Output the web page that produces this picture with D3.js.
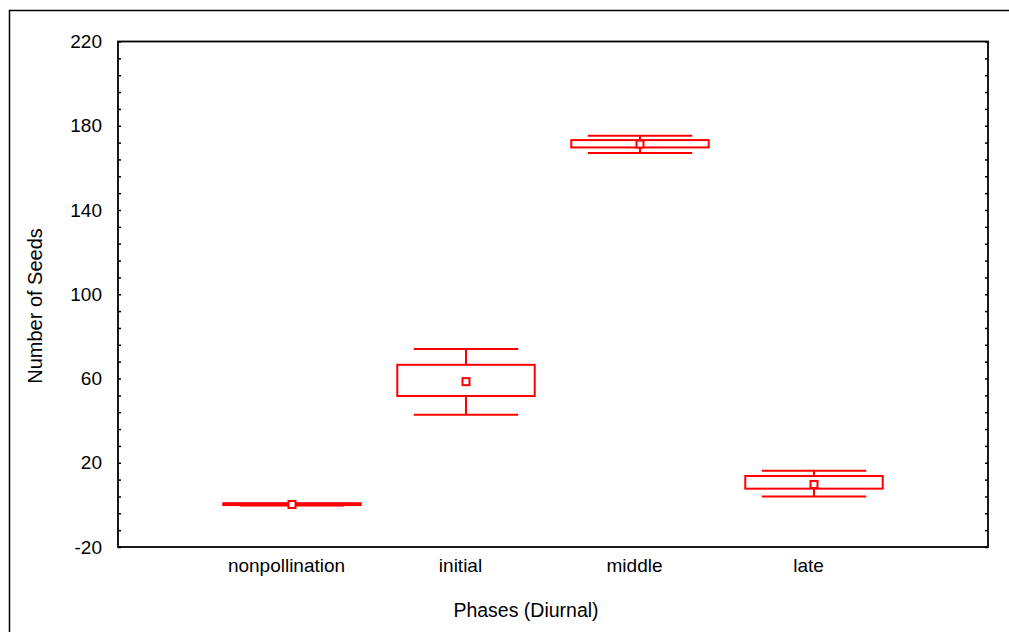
<!DOCTYPE html>
<html>
<head>
<meta charset="utf-8">
<script src="https://cdn.jsdelivr.net/npm/d3@7/dist/d3.min.js"></script>
<style>
  html, body { margin: 0; padding: 0; background: #fff; }
  svg { display: block; }
  text { font-family: "Liberation Sans", Arial, sans-serif; fill: #000; }
</style>
</head>
<body>
<svg id="chart" width="1009" height="632"></svg>
<script>
// Seed counts by diurnal pollination phase: mean, box (±SE) and whiskers (±SD)
const categories = ["nonpollination", "initial", "middle", "late"];
const means      = [0.2, 58.5, 171.3, 9.7];
const boxLow     = [-0.1, 51.7, 169.7, 7.7];
const boxHigh    = [0.8, 66.5, 173.2, 13.7];
const whiskerLow = [-0.3, 42.8, 167.1, 4.0];
const whiskerHigh= [0.3, 74.0, 175.3, 16.2];
const yTickLabels = [-20, 20, 60, 100, 140, 180, 220];

const svg = d3.select("#chart");
const W = 1009, H = 632;
const plot = { left: 118, top: 41.5, right: 988, bottom: 547 };

// Outer window frame (right and bottom edges fall outside the canvas)
svg.append("rect")
  .attr("x", 9.5).attr("y", 10.5)
  .attr("width", W + 10).attr("height", H + 10)
  .attr("fill", "none").attr("stroke", "#000").attr("stroke-width", 1.5);

const x = d3.scalePoint().domain(categories).range([plot.left, plot.right]).padding(1);
const y = d3.scaleLinear().domain([-20, 220]).range([plot.bottom, plot.top]);

const step = x.step();
const boxW = step * 0.79;
const capW = step * 0.6;

// Minor ticks every 8 units, pointing inward, on both vertical axes
const minorVals = d3.range(-20, 221, 8);
svg.append("g")
  .attr("transform", `translate(${plot.left},0)`)
  .call(d3.axisLeft(y).tickValues(minorVals).tickSize(-3).tickFormat(""))
  .call(g => g.select(".domain").remove())
  .call(g => g.selectAll("line").attr("stroke", "#000").attr("stroke-width", 1.5));
svg.append("g")
  .attr("transform", `translate(${plot.right},0)`)
  .call(d3.axisRight(y).tickValues(minorVals).tickSize(-3).tickFormat(""))
  .call(g => g.select(".domain").remove())
  .call(g => g.selectAll("line").attr("stroke", "#000").attr("stroke-width", 1.5));

// Y tick labels (plain hyphen for negatives)
svg.append("g")
  .attr("transform", `translate(${plot.left},0)`)
  .call(d3.axisLeft(y).tickValues(yTickLabels).tickSize(0).tickPadding(16)
    .tickFormat(d => String(d)))
  .call(g => g.select(".domain").remove())
  .call(g => g.selectAll("text")
    .attr("font-size", "19px")
    .attr("font-family", "Liberation Sans, Arial, sans-serif"));

// X category labels
svg.append("g")
  .attr("transform", `translate(0,${plot.bottom})`)
  .call(d3.axisBottom(x).tickSize(0).tickPadding(12))
  .call(g => g.select(".domain").remove())
  .call(g => g.selectAll("text")
    .attr("dx", -6)
    .attr("font-size", "19px")
    .attr("font-family", "Liberation Sans, Arial, sans-serif"));

// Plot frame
svg.append("rect")
  .attr("x", plot.left).attr("y", plot.top)
  .attr("width", plot.right - plot.left).attr("height", plot.bottom - plot.top)
  .attr("fill", "none").attr("stroke", "#000").attr("stroke-width", 1.8);

// Box-and-whisker marks
const red = "#ff0000";
const groups = svg.append("g").selectAll("g")
  .data(categories.map((c, i) => ({
    c, mean: means[i], bl: boxLow[i], bh: boxHigh[i], wl: whiskerLow[i], wh: whiskerHigh[i]
  })))
  .join("g")
  .attr("stroke", red).attr("stroke-width", 2).attr("fill", "none");

groups.append("line")
  .attr("x1", d => x(d.c)).attr("x2", d => x(d.c))
  .attr("y1", d => y(d.bh)).attr("y2", d => y(d.wh));
groups.append("line")
  .attr("x1", d => x(d.c)).attr("x2", d => x(d.c))
  .attr("y1", d => y(d.bl)).attr("y2", d => y(d.wl));
groups.append("line")
  .attr("x1", d => x(d.c) - capW / 2).attr("x2", d => x(d.c) + capW / 2)
  .attr("y1", d => y(d.wh)).attr("y2", d => y(d.wh));
groups.append("line")
  .attr("x1", d => x(d.c) - capW / 2).attr("x2", d => x(d.c) + capW / 2)
  .attr("y1", d => y(d.wl)).attr("y2", d => y(d.wl));
groups.append("rect")
  .attr("x", d => x(d.c) - boxW / 2)
  .attr("y", d => y(d.bh))
  .attr("width", boxW)
  .attr("height", d => Math.max(0, y(d.bl) - y(d.bh)));
groups.append("rect")
  .attr("x", d => x(d.c) - 3.5)
  .attr("y", d => y(d.mean) - 3.5)
  .attr("width", 7).attr("height", 7)
  .attr("fill", "#fff");

// Axis titles
svg.append("text")
  .attr("x", 526).attr("y", 617)
  .attr("text-anchor", "middle")
  .attr("font-size", "19.5px")
  .text("Phases (Diurnal)");
svg.append("text")
  .attr("transform", "translate(42,306) rotate(-90)")
  .attr("text-anchor", "middle")
  .attr("font-size", "20px")
  .text("Number of Seeds");
</script>
</body>
</html>
